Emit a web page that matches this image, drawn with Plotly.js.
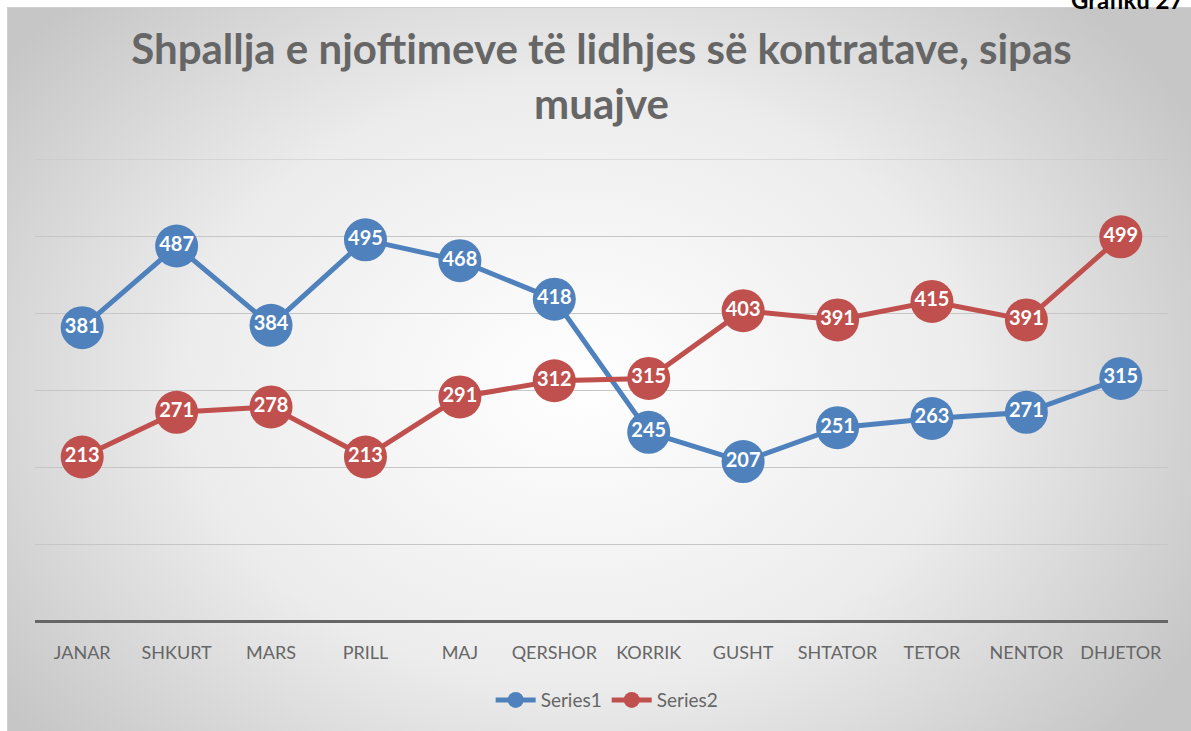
<!DOCTYPE html>
<html>
<head>
<meta charset="utf-8">
<script src="https://cdn.plot.ly/plotly-3.0.1.min.js"></script>
<style>
  html, body { margin:0; padding:0; background:#ffffff; }
  #bg { position:absolute; left:7px; top:7px; width:1184px; height:724px;
        background: radial-gradient(ellipse 60% 75% at 48% 52%, #ffffff 0%, #ececec 55%, #c6c6c6 100%);
        border-left:1px solid #d0d0d0; border-top:1px solid #d0d0d0; box-sizing:border-box; }
  #chart { position:absolute; left:0; top:0; width:1191px; height:731px; }
</style>
</head>
<body>
<div id="bg"></div>
<div id="chart"></div>
<script>
const months = ["JANAR","SHKURT","MARS","PRILL","MAJ","QERSHOR","KORRIK","GUSHT","SHTATOR","TETOR","NENTOR","DHJETOR"];
const series1 = [381, 487, 384, 495, 468, 418, 245, 207, 251, 263, 271, 315];
const series2 = [213, 271, 278, 213, 291, 312, 315, 403, 391, 415, 391, 499];
const seriesNames = ["Series1", "Series2"];
const colors = ["#4f81bd", "#c0504d"];
const yMax = 600;

function lineTrace(y, name, color) {
  return {
    x: months, y: y, name: name, type: 'scatter', mode: 'lines+markers',
    line: {color: color, width: 5},
    marker: {color: color, size: 43},
    hoverinfo: 'skip'
  };
}
function textTrace(y) {
  return {
    x: months, y: y, type: 'scatter', mode: 'text', showlegend: false,
    text: y.map(String), textposition: 'middle center',
    textfont: {family: 'Lato, sans-serif', size: 20, color: '#ffffff', weight: 'bold'},
    hoverinfo: 'skip'
  };
}

const data = [
  lineTrace(series1, seriesNames[0], colors[0]),
  lineTrace(series2, seriesNames[1], colors[1]),
  textTrace(series1),
  textTrace(series2)
];

const layout = {
  width: 1191, height: 731,
  paper_bgcolor: 'rgba(0,0,0,0)', plot_bgcolor: 'rgba(0,0,0,0)',
  margin: {l: 35, r: 23, t: 159, b: 107},
  title: {
    text: '<b>Shpallja e njoftimeve të lidhjes së kontratave, sipas<br>muajve</b>',
    font: {family: 'Lato, sans-serif', size: 42, color: '#666666'},
    x: 0.505, xanchor: 'center', y: 0.912, yanchor: 'top'
  },
  xaxis: {
    type: 'category', range: [-0.5, 11.5],
    showgrid: false, zeroline: false, showline: false,
    ticks: '', ticklabelstandoff: 19,
    tickfont: {family: 'Lato, sans-serif', size: 18, color: '#666666'},
    fixedrange: true
  },
  yaxis: {
    range: [0, yMax], dtick: 100, showticklabels: false,
    showgrid: true, gridcolor: '#c6c6c6', gridwidth: 1,
    zeroline: true, zerolinecolor: '#666666', zerolinewidth: 3,
    fixedrange: true
  },
  shapes: [{
    type: 'line', xref: 'paper', yref: 'y', x0: 0, x1: 1, y0: yMax, y1: yMax,
    line: {color: '#c6c6c6', width: 1}, layer: 'below'
  }],
  showlegend: true,
  legend: {
    orientation: 'h', x: 0.505, xanchor: 'center', y: -0.13, yanchor: 'top',
    font: {family: 'Lato, sans-serif', size: 19, color: '#666666'},
    bgcolor: 'rgba(0,0,0,0)', itemwidth: 40
  },
  annotations: [{
    text: '<b>Grafiku 27</b>', xref: 'paper', yref: 'paper',
    x: 1.016, xanchor: 'right', y: 1.345, yanchor: 'middle', showarrow: false,
    font: {family: 'Lato, sans-serif', size: 24, color: '#000000'}
  }]
};

Plotly.newPlot('chart', data, layout, {displayModeBar: false, staticPlot: true});
</script>
</body>
</html>
